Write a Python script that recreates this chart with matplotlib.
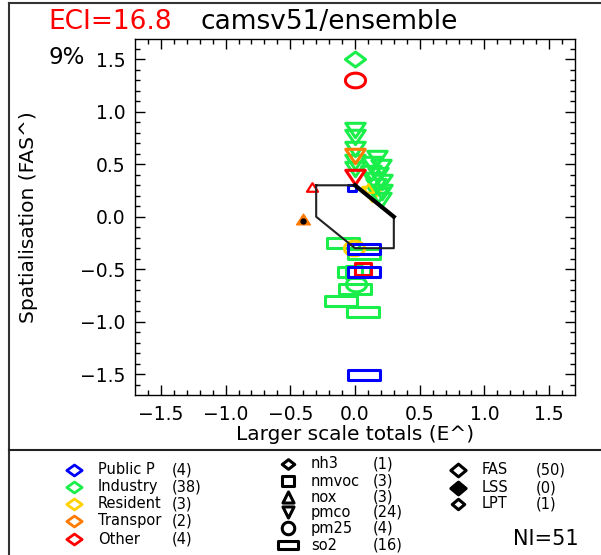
import numpy as np
import matplotlib
matplotlib.use("Agg")
import matplotlib.pyplot as plt
from matplotlib.path import Path

# legend categories
sectors = ["Public P", "Industry", "Resident", "Transpor", "Other"]
sector_counts = [4, 38, 3, 2, 4]
sector_colors = ["#0000ff", "#1aee4a", "#ffd200", "#ff7a00", "#ff0000"]

species = ["nh3", "nmvoc", "nox", "pmco", "pm25", "so2"]
species_counts = [1, 3, 3, 24, 4, 16]

flags = ["FAS", "LSS", "LPT"]
flag_counts = [50, 0, 1]

eci = 16.8
run_name = "camsv51/ensemble"
pct_label = "9%"
n_inputs = 51

# points, in drawing order
pt_sector = (["Public P", "Resident", "Industry"] + ["Industry"] * 24
             + ["Resident"] * 2 + ["Transpor"] * 2 + ["Other"] * 4 + ["Public P"] * 3)
pt_species = (["nmvoc", "pmco", "nh3"]
              + ["pmco"] * 16
              + ["so2"] * 6 + ["pm25", "nmvoc"]
              + ["nox", "pm25"]
              + ["pmco", "nox"]
              + ["pm25", "pmco", "nox", "nmvoc"]
              + ["so2", "so2", "so2"])
pt_x = ([-0.02, 0.13, 0.0,
         0.0, 0.0, 0.0, 0.0, 0.0, 0.17, 0.13, 0.20, 0.12, 0.18, 0.14, 0.21, 0.16, 0.21, 0.18, 0.20,
         -0.09, 0.07, -0.01, 0.0, -0.11, 0.06, 0.01, -0.01,
         0.10, -0.01,
         0.0, -0.40,
         0.0, 0.0, -0.33, 0.06,
         0.07, 0.07, 0.07])
pt_y = ([0.27, 0.22, 1.50,
         0.83, 0.76, 0.65, 0.52, 0.46, 0.56, 0.50, 0.47, 0.42, 0.40, 0.35, 0.33, 0.29, 0.24, 0.21, 0.16,
         -0.25, -0.36, -0.53, -0.69, -0.80, -0.91, -0.64, -0.53,
         0.27, -0.30,
         0.58, -0.02,
         1.30, 0.38, 0.28, -0.50,
         -0.31, -0.53, -1.51])
pt_flag = ["FAS"] * 30 + ["LPT"] + ["FAS"] * 7

# hexagon guide
hex_x = [-0.3, 0.0, 0.3, 0.3, 0.0, -0.3, -0.3]
hex_y = [0.3, 0.3, 0.0, -0.3, -0.3, 0.0, 0.3]


def shape(kind, a):
    if kind == "D":
        v = [(-a, 0), (0, 1), (a, 0), (0, -1), (-a, 0)]
    elif kind == "s":
        v = [(-a, -1), (a, -1), (a, 1), (-a, 1), (-a, -1)]
    elif kind == "^":
        v = [(-a, -1), (a, -1), (0, 1), (-a, -1)]
    elif kind == "v":
        v = [(-a, 1), (a, 1), (0, -1), (-a, 1)]
    else:
        t = np.linspace(0, 2 * np.pi, 60)
        v = list(zip(a * np.cos(t), np.sin(t)))
    return Path(v, closed=True)


marker_style = {
    "nh3": (shape("D", 1.35), 14.5),
    "nmvoc": (shape("s", 1.5), 12),
    "nox": (shape("^", 1.3), 8),
    "pmco": (shape("v", 1.35), 14),
    "pm25": (shape("o", 1.37), 14.5),
    "so2": (shape("s", 3.2), 23),
}
col = dict(zip(sectors, sector_colors))

W, H = 601, 555
fig = plt.figure(figsize=(W / 100, H / 100), dpi=100)

# background layer in pixel coordinates
bg = fig.add_axes([0, 0, 1, 1])
bg.set_xlim(0, W)
bg.set_ylim(H, 0)
bg.axis("off")
bg.plot([9, 9], [3, H], color="#333333", lw=1.5)
bg.plot([9, W], [3, 3], color="#333333", lw=1.5)
bg.plot([9, W], [450, 450], color="#222222", lw=1.5)

fig.text(48 / W, 1 - 22 / H, f"ECI={eci}", color="red", fontsize=19, va="center")
fig.text(200 / W, 1 - 22 / H, run_name, color="black", fontsize=19, va="center")
fig.text(48 / W, 1 - 57 / H, pct_label, fontsize=16.5, va="center")

ax = fig.add_axes([135 / W, 1 - 395 / H, 440 / W, 356.5 / H])
ax.set_xlim(-1.7, 1.7)
ax.set_ylim(-1.7, 1.7)
ax.set_xticks(np.arange(-1.5, 1.51, 0.5))
ax.set_yticks(np.arange(-1.5, 1.51, 0.5))
ax.set_xticks(np.arange(-1.6, 1.61, 0.1), minor=True)
ax.set_yticks(np.arange(-1.6, 1.61, 0.1), minor=True)
ax.tick_params(which="both", direction="in", top=True, right=True, width=1)
ax.tick_params(which="major", length=7, labelsize=13.5, pad=7)
ax.tick_params(which="minor", length=3.5)
for s in ax.spines.values():
    s.set_linewidth(1)
ax.set_xlabel("Larger scale totals (E^)", fontsize=14.5, labelpad=1)
ax.set_ylabel("Spatialisation (FAS^)", fontsize=14.5)
ax.yaxis.set_label_coords(-(135 - 38) / 440, 0.5)

for i, (sec, sp, x, y, fl) in enumerate(zip(pt_sector, pt_species, pt_x, pt_y, pt_flag)):
    m, ms = marker_style[sp]
    c = col[sec]
    if fl == "LPT":
        ax.plot(x, y, marker=m, ms=ms + 2, mfc=c, mec=c, mew=1, ls="none", zorder=3 + i * 0.01)
        ax.plot(x, y - 0.02, marker="o", ms=3.5, color="black", ls="none", zorder=3.5)
    else:
        lw = 1.6 if sp == "nox" else 2.2
        if sec == "Public P" and sp == "nmvoc":
            ms = 6
        ax.plot(x, y, marker=m, ms=ms, mfc="none", mec=c, mew=lw, ls="none", zorder=3 + i * 0.01)

ax.plot(hex_x, hex_y, color="#222222", lw=1.5, zorder=5)
ax.plot(hex_x[1:3], hex_y[1:3], color="black", lw=3, zorder=5)

# legend block
leg_fs = 10.5
rows1 = [470, 487, 504, 521, 539]
for name, n, c, yy in zip(sectors, sector_counts, sector_colors, rows1):
    bg.plot(74, yy, marker=shape("D", 1.4), ms=11, mfc="none", mec=c, mew=2, ls="none")
    bg.text(98, yy, name, fontsize=leg_fs, va="center")
    bg.text(172, yy, f"({n})", fontsize=leg_fs, va="center")

rows2 = [464, 481, 497, 512, 528, 545]
leg_marks = {
    "nh3": (shape("D", 1.3), 9),
    "nmvoc": (shape("s", 1.2), 8),
    "nox": (shape("^", 1.0), 8),
    "pmco": (shape("v", 1.0), 8),
    "pm25": (shape("o", 1.0), 9),
    "so2": (shape("s", 2.2), 14),
}
for name, n, yy in zip(species, species_counts, rows2):
    m, ms = leg_marks[name]
    bg.plot(288, yy, marker=m, ms=ms, mfc="none", mec="black", mew=2.2, ls="none")
    bg.text(311, yy, name, fontsize=leg_fs, va="center")
    bg.text(373, yy, f"({n})", fontsize=leg_fs, va="center")

rows3 = [470, 488, 504]
for name, n, yy in zip(flags, flag_counts, rows3):
    filled = name == "LSS"
    ms = 11 if name != "LPT" else 9
    bg.plot(458, yy, marker=shape("D", 1.2), ms=ms, mfc="black" if filled else "none",
            mec="black", mew=2.2, ls="none")
    bg.text(482, yy, name, fontsize=leg_fs, va="center")
    bg.text(536, yy, f"({n})", fontsize=leg_fs, va="center")

bg.text(513, 539, f"NI={n_inputs}", fontsize=15, va="center")

fig.savefig("out.png", dpi=100)
